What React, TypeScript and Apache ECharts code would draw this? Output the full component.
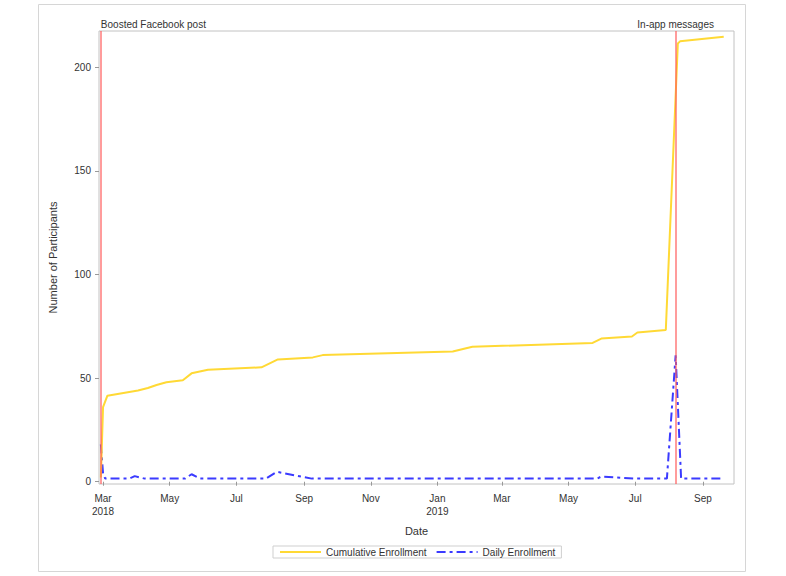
import React, { useEffect, useRef } from "react";
import * as echarts from "echarts";

const cumDates = ["2018-02-27","2018-03-01","2018-03-05","2018-04-02","2018-04-11","2018-04-19","2018-04-28","2018-05-13","2018-05-21","2018-06-05","2018-07-24","2018-08-08","2018-09-09","2018-09-18","2019-01-15","2019-02-02","2019-05-23","2019-05-31","2019-06-28","2019-07-03","2019-07-29","2019-08-09","2019-08-11","2019-09-20"];
const cumValues = [2, 36, 41.5, 44, 45.2, 46.7, 48, 49, 52.3, 54, 55.2, 59, 60, 61.1, 62.8, 65.1, 67, 69.1, 70.1, 72, 73.2, 211.5, 212.5, 214.7];

const dailyDates = ["2018-02-27","2018-03-01","2018-03-03","2018-03-25","2018-03-30","2018-04-08","2018-05-15","2018-05-21","2018-05-29","2018-07-28","2018-08-07","2018-09-08","2019-05-27","2019-05-31","2019-07-01","2019-07-30","2019-08-07","2019-08-12","2019-09-20"];
const dailyValues = [18, 4, 1.5, 1.5, 2.7, 1.5, 1.5, 3.6, 1.5, 1.5, 4.8, 1.5, 1.5, 2.5, 1.5, 1.5, 61, 1.5, 1.5];

const eventDates = ["2018-02-27", "2019-08-07"];
const eventLabels = ["Boosted Facebook post", "In-app messages"];

const xTickDates = ["2018-03-01","2018-05-01","2018-07-01","2018-09-01","2018-11-01","2019-01-01","2019-03-01","2019-05-01","2019-07-01","2019-09-01"];
const xTickLabels = ["Mar\n2018","May","Jul","Sep","Nov","Jan\n2019","Mar","May","Jul","Sep"];
const yTicks = [0, 50, 100, 150, 200];

const seriesNames = ["Cumulative Enrollment", "Daily Enrollment"];

const ts = (s: string) => {
  const [y, m, d] = s.split("-").map(Number);
  return Date.UTC(y, m - 1, d);
};
const DAY = 86400000;

export default function App() {
  const ref = useRef<HTMLDivElement>(null);
  useEffect(() => {
    if (!ref.current) return;
    const chart = echarts.init(ref.current, null, { renderer: "svg" });
    const font = "'Liberation Sans', Arial, sans-serif";
    const tickTs = xTickDates.map(ts);
    chart.setOption({
      animation: false,
      backgroundColor: "#fff",
      textStyle: { fontFamily: font },
      graphic: [
        {
          type: "rect",
          shape: { x: 38.5, y: 4.5, width: 707, height: 567 },
          style: { fill: "none", stroke: "#d6d6d6", lineWidth: 1 },
          silent: true,
        },
      ],
      grid: {
        left: 99,
        right: 52,
        top: 31,
        bottom: 92,
        show: true,
        borderColor: "#c2c2c2",
        borderWidth: 1,
        backgroundColor: "#fff",
      },
      legend: {
        left: 273,
        top: 546,
        itemWidth: 41,
        itemHeight: 10,
        itemGap: 9,
        padding: [1, 6, 1, 6],
        borderColor: "#cfcfcf",
        borderWidth: 1,
        itemStyle: { opacity: 0 },
        textStyle: { fontSize: 10, color: "#333", fontFamily: font },
        data: seriesNames,
      },
      xAxis: {
        type: "value",
        min: ts("2018-03-01") - 3.7 * DAY,
        max: ts("2019-09-01") + 28.4 * DAY,
        name: "Date",
        nameLocation: "middle",
        nameGap: 41,
        nameTextStyle: { fontSize: 11, color: "#333", fontFamily: font },
        axisLine: { show: false },
        splitLine: { show: false },
        axisTick: {
          show: true,
          length: 4,
          lineStyle: { color: "#999" },
          customValues: tickTs,
        },
        axisLabel: {
          fontSize: 10,
          color: "#333",
          lineHeight: 13,
          margin: 8,
          customValues: tickTs,
          formatter: (v: number) => {
            const i = tickTs.findIndex((t) => Math.abs(t - v) < DAY);
            return i >= 0 ? xTickLabels[i] : "";
          },
        },
      },
      yAxis: {
        type: "value",
        min: -1.1,
        max: 217.5,
        name: "Number of Participants",
        nameLocation: "middle",
        nameGap: 41,
        nameTextStyle: { fontSize: 11, color: "#333", fontFamily: font },
        axisLine: { show: false },
        splitLine: { show: false },
        axisTick: {
          show: true,
          length: 4,
          lineStyle: { color: "#999" },
          customValues: yTicks,
        },
        axisLabel: {
          fontSize: 10,
          color: "#333",
          margin: 8,
          customValues: yTicks,
        },
      },
      series: [
        {
          name: seriesNames[0],
          type: "line",
          symbol: "none",
          z: 3,
          lineStyle: { color: "#FFD935", width: 2 },
          itemStyle: { color: "#FFD935", opacity: 0 },
          data: cumDates.map((d, i) => [ts(d), cumValues[i]]),
          markLine: {
            silent: true,
            symbol: "none",
            z: 4,
            lineStyle: { color: "rgba(255,90,90,0.6)", width: 2, type: "solid", opacity: 1 },
            label: {
              show: true,
              position: "end",
              distance: 2,
              fontSize: 10,
              color: "#333",
              fontFamily: font,
            },
            data: eventDates.map((d, i) => ({
              xAxis: ts(d),
              label: {
                formatter: eventLabels[i],
                align: i === 0 ? "left" : "center",
              },
            })),
          },
        },
        {
          name: seriesNames[1],
          type: "line",
          symbol: "none",
          z: 2,
          lineStyle: { color: "#3b3bff", width: 2, type: [9, 4, 3, 4] },
          itemStyle: { color: "#3b3bff", opacity: 0 },
          data: dailyDates.map((d, i) => [ts(d), dailyValues[i]]),
        },
      ],
    });
    return () => chart.dispose();
  }, []);
  return (
    <div
      ref={ref}
      style={{ position: "absolute", left: 0, top: 0, width: 786, height: 576 }}
    />
  );
}
